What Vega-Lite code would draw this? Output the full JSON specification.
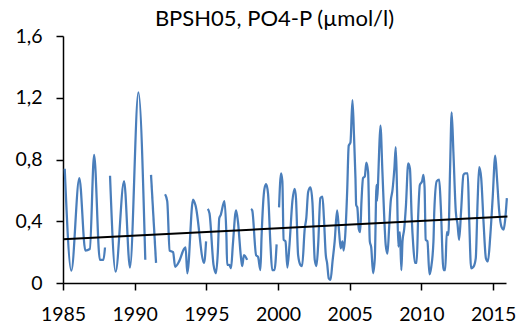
{
  "$schema": "https://vega.github.io/schema/vega-lite/v6.json",
  "width": 443,
  "height": 247,
  "autosize": {"type": "none"},
  "padding": {"left": 63, "top": 36, "right": 12, "bottom": 41},
  "background": "white",
  "title": {"text": "BPSH05, PO4-P (µmol/l)", "font": "Lato", "fontSize": 22, "fontWeight": "normal", "color": "black", "anchor": "middle", "dx": -10, "offset": -5},
  "config": {
    "view": {"stroke": null},
    "axis": {"grid": false, "domainColor": "black", "domainWidth": 1.5, "tickColor": "black", "tickWidth": 1.5, "tickSize": 7, "labelColor": "black", "labelFont": "Lato", "labelFontSize": 19.5, "title": null}
  },
  "layer": [
    {
      "data": {"values": [
        {"t":1985.12,"v":0.74,"s":1},{"t":1985.58,"v":0.08,"s":1},{"t":1986.14,"v":0.68,"s":1},{"t":1986.56,"v":0.21,"s":1},{"t":1986.87,"v":0.22,"s":1},{"t":1987.17,"v":0.83,"s":1},{"t":1987.57,"v":0.15,"s":1},{"t":1987.82,"v":0.15,"s":1},{"t":1987.93,"v":0.23,"s":1},
        {"t":1988.28,"v":0.695,"s":2},{"t":1988.67,"v":0.073,"s":2},{"t":1989.26,"v":0.66,"s":2},{"t":1989.67,"v":0.1,"s":2},{"t":1990.26,"v":1.235,"s":2},{"t":1990.74,"v":0.15,"s":2},
        {"t":1991.14,"v":0.7,"s":3},{"t":1991.49,"v":0.13,"s":3},
        {"t":1992.12,"v":0.575,"s":4},{"t":1992.27,"v":0.53,"s":4},{"t":1992.44,"v":0.21,"s":4},{"t":1992.68,"v":0.2,"s":4},{"t":1992.82,"v":0.105,"s":4},{"t":1993.1,"v":0.14,"s":4},{"t":1993.44,"v":0.22,"s":4},{"t":1993.55,"v":0.23,"s":4},{"t":1993.67,"v":0.063,"s":4},{"t":1994.07,"v":0.54,"s":4},{"t":1994.25,"v":0.5,"s":4},{"t":1994.84,"v":0.13,"s":4},{"t":1994.98,"v":0.27,"s":4},
        {"t":1995.1,"v":0.48,"s":5},{"t":1995.22,"v":0.45,"s":5},{"t":1995.5,"v":0.117,"s":5},{"t":1995.67,"v":0.063,"s":5},{"t":1995.8,"v":0.2,"s":5},{"t":1995.9,"v":0.42,"s":5},{"t":1996.0,"v":0.44,"s":5},{"t":1996.26,"v":0.53,"s":5},{"t":1996.4,"v":0.3,"s":5},{"t":1996.45,"v":0.117,"s":5},{"t":1996.6,"v":0.117,"s":5},{"t":1996.72,"v":0.095,"s":5},{"t":1996.85,"v":0.25,"s":5},{"t":1997.07,"v":0.47,"s":5},{"t":1997.2,"v":0.4,"s":5},{"t":1997.42,"v":0.16,"s":5},{"t":1997.5,"v":0.11,"s":5},{"t":1997.62,"v":0.18,"s":5},{"t":1997.84,"v":0.15,"s":5},
        {"t":1998.12,"v":0.48,"s":6},{"t":1998.2,"v":0.47,"s":6},{"t":1998.47,"v":0.18,"s":6},{"t":1998.6,"v":0.17,"s":6},{"t":1998.77,"v":0.084,"s":6},{"t":1998.85,"v":0.3,"s":6},{"t":1999.05,"v":0.61,"s":6},{"t":1999.17,"v":0.64,"s":6},{"t":1999.3,"v":0.58,"s":6},{"t":1999.47,"v":0.25,"s":6},{"t":1999.59,"v":0.084,"s":6},{"t":1999.75,"v":0.084,"s":6},{"t":1999.9,"v":0.25,"s":6},
        {"t":2000.07,"v":0.49,"s":7},{"t":2000.21,"v":0.71,"s":7},{"t":2000.3,"v":0.66,"s":7},{"t":2000.39,"v":0.28,"s":7},{"t":2000.52,"v":0.27,"s":7},{"t":2000.65,"v":0.1,"s":7},{"t":2000.8,"v":0.25,"s":7},{"t":2001.0,"v":0.53,"s":7},{"t":2001.16,"v":0.61,"s":7},{"t":2001.25,"v":0.55,"s":7},{"t":2001.4,"v":0.18,"s":7},{"t":2001.56,"v":0.117,"s":7},{"t":2001.68,"v":0.11,"s":7},{"t":2001.86,"v":0.35,"s":7},{"t":2001.97,"v":0.42,"s":7},{"t":2002.1,"v":0.59,"s":7},{"t":2002.26,"v":0.62,"s":7},{"t":2002.4,"v":0.52,"s":7},{"t":2002.56,"v":0.15,"s":7},{"t":2002.68,"v":0.11,"s":7},{"t":2002.8,"v":0.25,"s":7},{"t":2002.95,"v":0.55,"s":7},{"t":2003.1,"v":0.56,"s":7},{"t":2003.2,"v":0.42,"s":7},{"t":2003.33,"v":0.18,"s":7},{"t":2003.42,"v":0.13,"s":7},{"t":2003.54,"v":0.03,"s":7},{"t":2003.66,"v":0.02,"s":7},{"t":2003.8,"v":0.14,"s":7},{"t":2003.95,"v":0.27,"s":7},{"t":2004.12,"v":0.47,"s":7},{"t":2004.26,"v":0.33,"s":7},{"t":2004.37,"v":0.225,"s":7},{"t":2004.49,"v":0.27,"s":7},{"t":2004.58,"v":0.21,"s":7},{"t":2004.7,"v":0.33,"s":7},{"t":2004.82,"v":0.59,"s":7},{"t":2004.93,"v":0.89,"s":7},{"t":2005.05,"v":0.91,"s":7},{"t":2005.19,"v":1.185,"s":7},{"t":2005.3,"v":0.95,"s":7},{"t":2005.4,"v":0.68,"s":7},{"t":2005.45,"v":0.505,"s":7},{"t":2005.53,"v":0.49,"s":7},{"t":2005.63,"v":0.35,"s":7},{"t":2005.73,"v":0.33,"s":7},{"t":2005.82,"v":0.53,"s":7},{"t":2005.93,"v":0.68,"s":7},{"t":2006.05,"v":0.69,"s":7},{"t":2006.16,"v":0.78,"s":7},{"t":2006.28,"v":0.72,"s":7},{"t":2006.4,"v":0.27,"s":7},{"t":2006.5,"v":0.23,"s":7},{"t":2006.63,"v":0.063,"s":7},{"t":2006.75,"v":0.16,"s":7},{"t":2006.87,"v":0.635,"s":7},{"t":2006.9,"v":0.53,"s":7},{"t":2006.97,"v":0.635,"s":7},{"t":2007.05,"v":0.85,"s":7},{"t":2007.14,"v":1.02,"s":7},{"t":2007.28,"v":0.72,"s":7},{"t":2007.4,"v":0.44,"s":7},{"t":2007.51,"v":0.245,"s":7},{"t":2007.63,"v":0.19,"s":7},{"t":2007.75,"v":0.36,"s":7},{"t":2007.86,"v":0.53,"s":7},{"t":2007.98,"v":0.6,"s":7},{"t":2008.12,"v":0.75,"s":7},{"t":2008.21,"v":0.88,"s":7},{"t":2008.3,"v":0.6,"s":7},{"t":2008.39,"v":0.235,"s":7},{"t":2008.5,"v":0.33,"s":7},{"t":2008.6,"v":0.084,"s":7},{"t":2008.68,"v":0.27,"s":7},{"t":2008.8,"v":0.35,"s":7},{"t":2008.92,"v":0.5,"s":7},{"t":2009.08,"v":0.775,"s":7},{"t":2009.2,"v":0.74,"s":7},{"t":2009.32,"v":0.43,"s":7},{"t":2009.43,"v":0.245,"s":7},{"t":2009.55,"v":0.13,"s":7},{"t":2009.67,"v":0.13,"s":7},{"t":2009.78,"v":0.45,"s":7},{"t":2009.89,"v":0.635,"s":7},{"t":2010.05,"v":0.66,"s":7},{"t":2010.14,"v":0.7,"s":7},{"t":2010.22,"v":0.62,"s":7},{"t":2010.3,"v":0.28,"s":7},{"t":2010.42,"v":0.27,"s":7},{"t":2010.56,"v":0.056,"s":7},{"t":2010.68,"v":0.1,"s":7},{"t":2010.84,"v":0.27,"s":7},{"t":2010.9,"v":0.47,"s":7},{"t":2011.07,"v":0.66,"s":7},{"t":2011.24,"v":0.67,"s":7},{"t":2011.35,"v":0.5,"s":7},{"t":2011.54,"v":0.084,"s":7},{"t":2011.66,"v":0.084,"s":7},{"t":2011.77,"v":0.33,"s":7},{"t":2011.88,"v":0.31,"s":7},{"t":2012.0,"v":0.74,"s":7},{"t":2012.11,"v":1.105,"s":7},{"t":2012.23,"v":0.85,"s":7},{"t":2012.4,"v":0.46,"s":7},{"t":2012.52,"v":0.38,"s":7},{"t":2012.63,"v":0.28,"s":7},{"t":2012.77,"v":0.47,"s":7},{"t":2012.93,"v":0.7,"s":7},{"t":2013.05,"v":0.71,"s":7},{"t":2013.23,"v":0.71,"s":7},{"t":2013.33,"v":0.42,"s":7},{"t":2013.47,"v":0.095,"s":7},{"t":2013.63,"v":0.105,"s":7},{"t":2013.79,"v":0.16,"s":7},{"t":2013.92,"v":0.53,"s":7},{"t":2014.03,"v":0.75,"s":7},{"t":2014.17,"v":0.68,"s":7},{"t":2014.33,"v":0.4,"s":7},{"t":2014.5,"v":0.16,"s":7},{"t":2014.64,"v":0.14,"s":7},{"t":2014.8,"v":0.3,"s":7},{"t":2014.97,"v":0.55,"s":7},{"t":2015.15,"v":0.825,"s":7},{"t":2015.27,"v":0.68,"s":7},{"t":2015.43,"v":0.46,"s":7},{"t":2015.6,"v":0.36,"s":7},{"t":2015.73,"v":0.345,"s":7},{"t":2015.83,"v":0.4,"s":7},{"t":2015.96,"v":0.55,"s":7}
      ]},
      "mark": {"type": "line", "color": "#4a7ebb", "strokeWidth": 2.25, "interpolate": "monotone", "clip": false},
      "encoding": {
        "x": {"field": "t", "type": "quantitative", "scale": {"domain": [1985, 2015.9], "nice": false, "zero": false},
              "axis": {"values": [1985, 1990, 1995, 2000, 2005, 2010, 2015], "format": "d", "labelPadding": 15, "labelFlush": false}},
        "y": {"field": "v", "type": "quantitative", "scale": {"domain": [0, 1.6], "nice": false},
              "axis": {"values": [0, 0.4, 0.8, 1.2, 1.6], "labelExpr": "datum.value == 0 ? '0' : replace(format(datum.value, '.1f'), '.', ',')", "labelPadding": 14}},
        "detail": {"field": "s", "type": "nominal"}
      }
    },
    {
      "data": {"values": [{"t": 1985, "v": 0.283}, {"t": 2016, "v": 0.43}]},
      "mark": {"type": "line", "color": "black", "strokeWidth": 2, "clip": false},
      "encoding": {
        "x": {"field": "t", "type": "quantitative"},
        "y": {"field": "v", "type": "quantitative"}
      }
    }
  ]
}
